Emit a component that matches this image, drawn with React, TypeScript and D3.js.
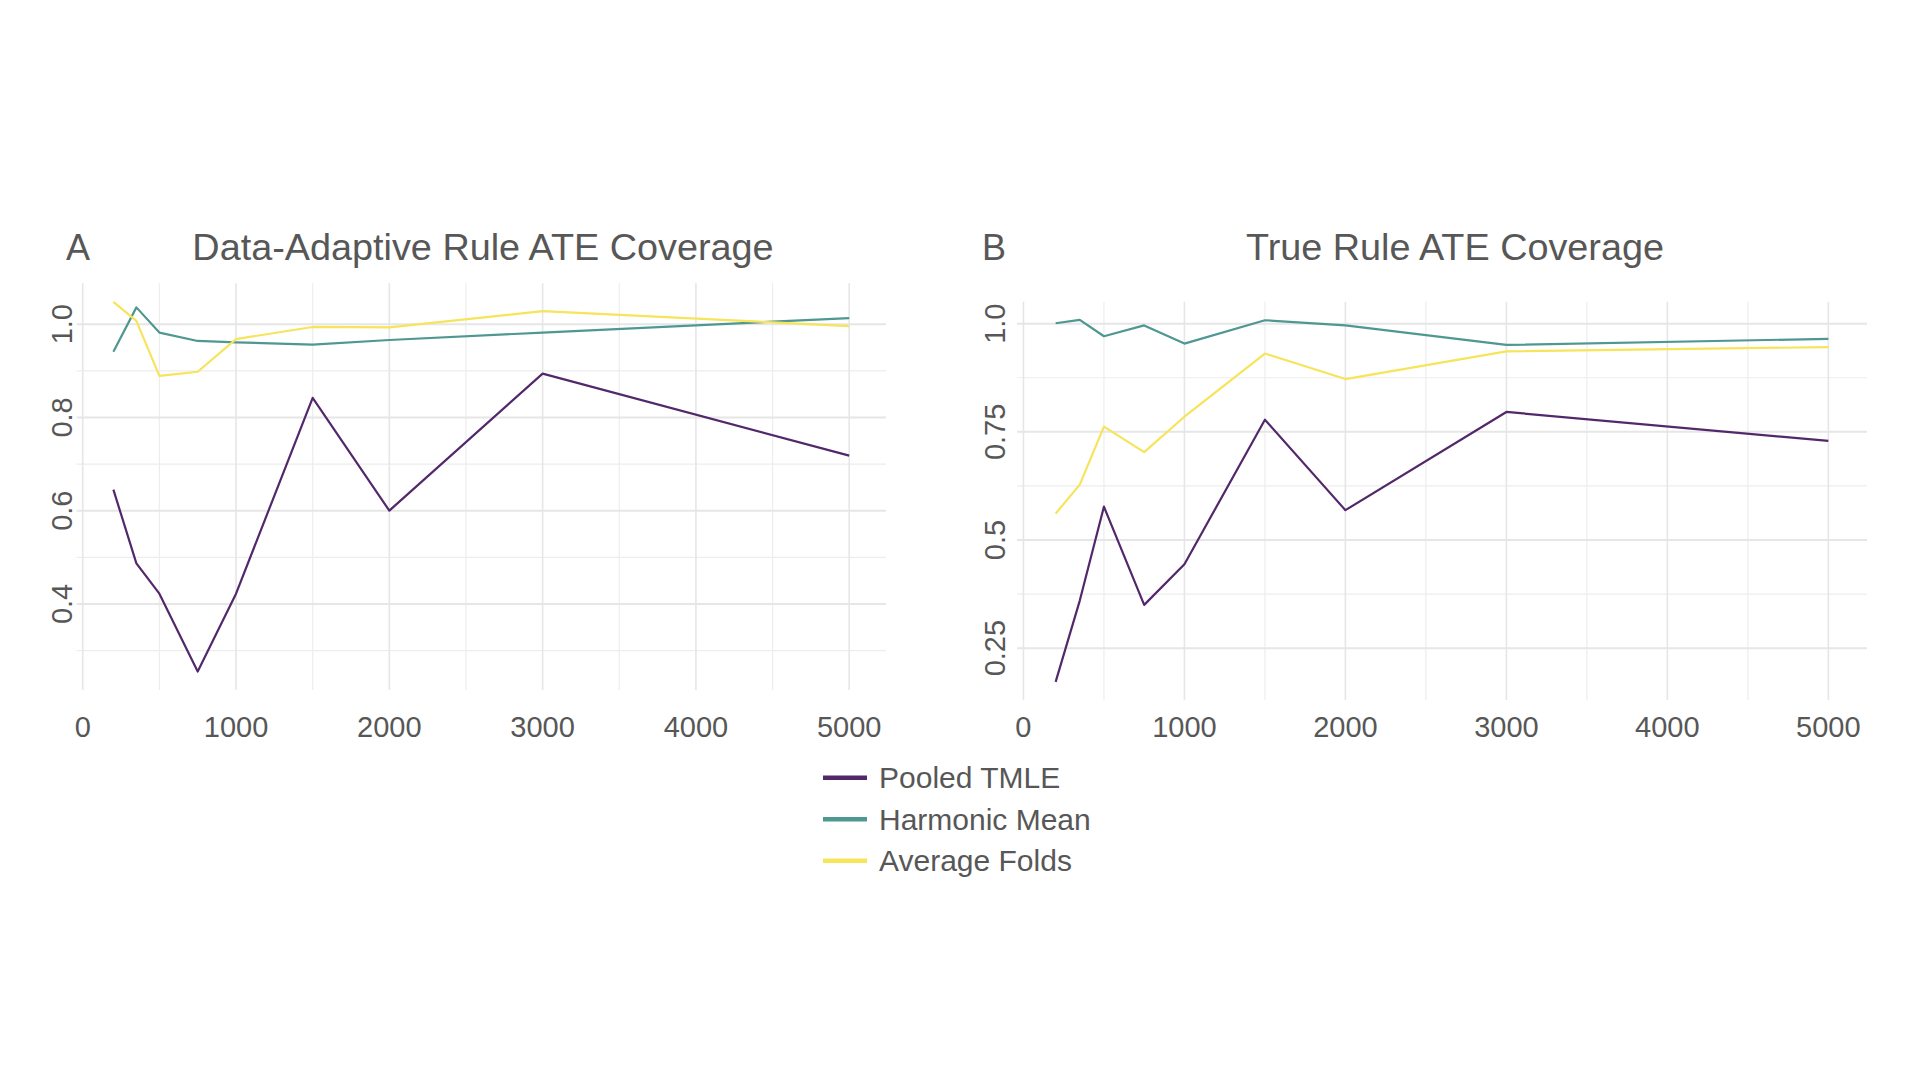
import * as d3 from "d3";
import React from "react";

// sample sizes shared by both panels
const sampleSizes = [200, 350, 500, 750, 1000, 1500, 2000, 3000, 5000];

// panel A: data-adaptive rule
const pooledA = [0.645, 0.487, 0.422, 0.255, 0.422, 0.842, 0.6, 0.894, 0.718];
const harmonicA = [0.941, 1.036, 0.982, 0.964, 0.961, 0.956, 0.966, 0.982, 1.013];
const averageA = [1.048, 1.007, 0.889, 0.898, 0.968, 0.994, 0.993, 1.028, 0.996];

// panel B: true rule
const pooledB = [0.172, 0.36, 0.577, 0.35, 0.444, 0.778, 0.569, 0.796, 0.729];
const harmonicB = [1.001, 1.009, 0.971, 0.996, 0.954, 1.008, 0.996, 0.951, 0.965];
const averageB = [0.561, 0.628, 0.762, 0.703, 0.785, 0.931, 0.872, 0.936, 0.946];

const seriesNames = ["Pooled TMLE", "Harmonic Mean", "Average Folds"];
const seriesColors = ["#52286b", "#4f9791", "#f6e45a"];

const xMajor = [0, 1000, 2000, 3000, 4000, 5000];
const xMinor = [500, 1500, 2500, 3500, 4500];
const yMajorA = [0.4, 0.6, 0.8, 1.0];
const yMinorA = [0.3, 0.5, 0.7, 0.9];
const yLabelsA = ["0.4", "0.6", "0.8", "1.0"];
const yMajorB = [0.25, 0.5, 0.75, 1.0];
const yMinorB = [0.375, 0.625, 0.875];
const yLabelsB = ["0.25", "0.5", "0.75", "1.0"];

const font = "'Liberation Sans', Arial, Helvetica, sans-serif";
const textColor = "#575757";

type PanelT = {
  tag: string,
  title: string,
  titleX: number,
  tagX: number,
  left: number,
  right: number,
  top: number,
  bottom: number,
  series: number[][],
  yMajor: number[],
  yMinor: number[],
  yLabels: string[],
  yLabelX: number
}

function expand(values: number[]) {
  const [lo, hi] = d3.extent(values) as [number, number];
  const pad = (hi - lo) * 0.05;
  return [lo - pad, hi + pad];
}

function Panel(p: PanelT) {
  const x = d3.scaleLinear().domain(expand(sampleSizes)).range([p.left, p.right]);
  const y = d3.scaleLinear().domain(expand(p.series.flat())).range([p.bottom, p.top]);
  const line = d3.line<number>()
    .x((d, i) => x(sampleSizes[i]))
    .y(d => y(d));

  return (
    <g>
      <text x={p.tagX} y={260} fontSize={36} fill={textColor} fontFamily={font}>{p.tag}</text>
      <text x={p.titleX} y={260} fontSize={37.8} fill={textColor} fontFamily={font} textAnchor="middle">{p.title}</text>
      {p.yMinor.map(v => (
        <line key={"ym" + v} x1={p.left} x2={p.right} y1={y(v)} y2={y(v)} stroke="#ededed" strokeWidth={1.2} />
      ))}
      {xMinor.map(v => (
        <line key={"xm" + v} x1={x(v)} x2={x(v)} y1={p.top} y2={p.bottom} stroke="#ededed" strokeWidth={1.2} />
      ))}
      {p.yMajor.map(v => (
        <line key={"yM" + v} x1={p.left} x2={p.right} y1={y(v)} y2={y(v)} stroke="#e6e6e6" strokeWidth={2} />
      ))}
      {xMajor.map(v => (
        <line key={"xM" + v} x1={x(v)} x2={x(v)} y1={p.top} y2={p.bottom} stroke="#e6e6e6" strokeWidth={1.6} />
      ))}
      {p.series.map((s, i) => (
        <path key={"s" + i} d={line(s) || ""} fill="none" stroke={seriesColors[i]} strokeWidth={2.2} strokeLinejoin="round" />
      ))}
      {xMajor.map(v => (
        <text key={"xl" + v} x={x(v)} y={737} fontSize={29} fill={textColor} fontFamily={font} textAnchor="middle">{v}</text>
      ))}
      {p.yMajor.map((v, i) => (
        <text key={"yl" + v} transform={`translate(${p.yLabelX}, ${y(v)}) rotate(-90)`} fontSize={29} fill={textColor} fontFamily={font} textAnchor="middle">{p.yLabels[i]}</text>
      ))}
    </g>
  );
}

export function App() {
  return (
    <div style={{ position: "absolute", left: 0, top: 0, width: 1920, height: 1080, background: "#fff" }}>
      <svg width={1920} height={1080} style={{ display: "block" }}>
        <rect width={1920} height={1080} fill="#fff" />
        <Panel tag="A" title="Data-Adaptive Rule ATE Coverage" titleX={483} tagX={66}
          left={76.6} right={886} top={283.3} bottom={690}
          series={[pooledA, harmonicA, averageA]}
          yMajor={yMajorA} yMinor={yMinorA} yLabels={yLabelsA} yLabelX={72} />
        <Panel tag="B" title="True Rule ATE Coverage" titleX={1455} tagX={982}
          left={1017} right={1867} top={301.7} bottom={700}
          series={[pooledB, harmonicB, averageB]}
          yMajor={yMajorB} yMinor={yMinorB} yLabels={yLabelsB} yLabelX={1005} />
        {seriesNames.map((name, i) => (
          <g key={name} transform={`translate(823, ${777.7 + i * 41.5})`}>
            <line x1={0} x2={44} y1={0} y2={0} stroke={seriesColors[i]} strokeWidth={4.5} />
            <text x={56} y={10.5} fontSize={30} fill={textColor} fontFamily={font}>{name}</text>
          </g>
        ))}
      </svg>
    </div>
  );
}

export default App;
